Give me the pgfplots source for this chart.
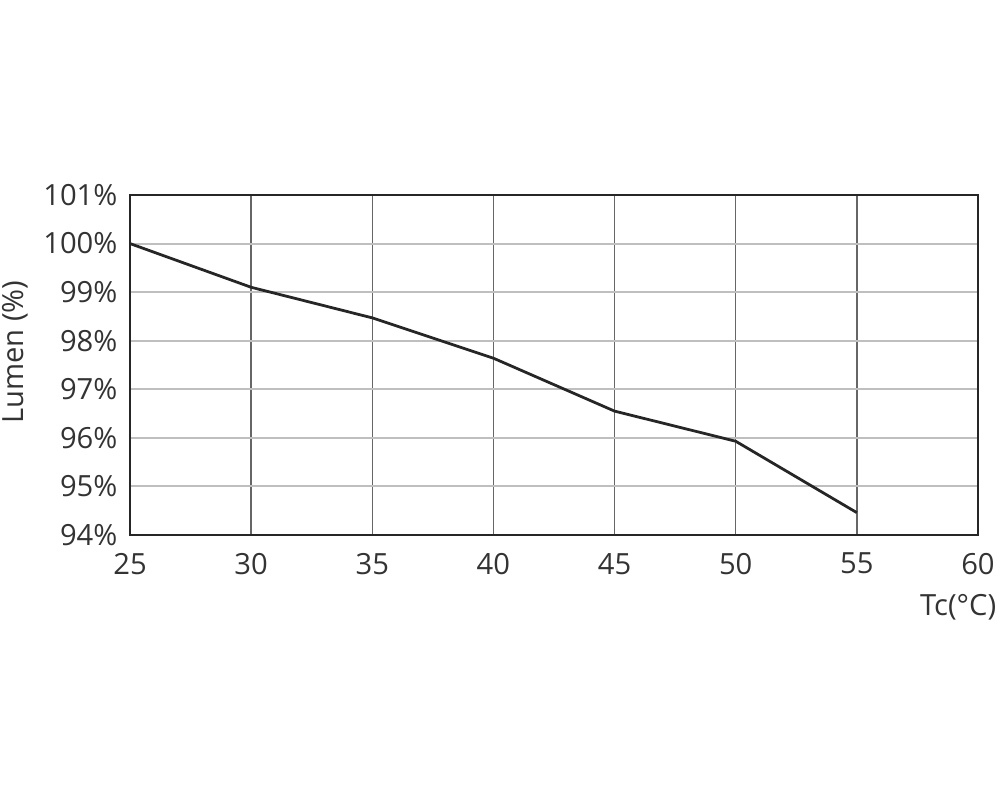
\documentclass[border=0pt]{standalone}
\usepackage{pgfplots}
\pgfplotsset{compat=1.18}
\usepackage{fontspec}
\setmainfont{Open Sans}
\begin{document}
\begin{tikzpicture}[x=0.36pt,y=0.36pt]
\useasboundingbox (-130,-265) rectangle (870,535);
\begin{axis}[
  at={(0,0)}, anchor=south west,
  scale only axis, width=305.28pt, height=122.4pt,
  xmin=25, xmax=60, ymin=94, ymax=101,
  xtick={25,30,...,60}, ytick={94,95,...,101},
  yticklabel={\pgfmathprintnumber{\tick}\%},
  /pgf/number format/assume math mode=true,
  ticklabel style={font=\fontsize{10.5}{12}\selectfont, text=black!80},
  tick style={draw=none},
  xmajorgrids=true, ymajorgrids=true,
  x grid style={draw=black!60, line width=0.5pt},
  y grid style={draw=black!25, line width=0.7pt},
  axis line style={line width=1pt, black!85},
  xticklabel style={yshift=-3pt},
  yticklabel style={xshift=-1pt},
  clip=false,
]
\addplot[line width=1pt, black!85] coordinates {
(25,100.0) (30,99.1) (35,98.47) (40,97.64) (45,96.55) (50,95.93) (55,94.46)
};
\node[rotate=90, anchor=center, font=\fontsize{10.5}{12}\selectfont, text=black!80] at (rel axis cs:-0.1356,0.538) {Lumen (\%)};
\node[anchor=east, font=\fontsize{10.5}{12}\selectfont, text=black!80] at (rel axis cs:1.033,-0.213) {Tc(°C)};
\end{axis}
\end{tikzpicture}
\end{document}
